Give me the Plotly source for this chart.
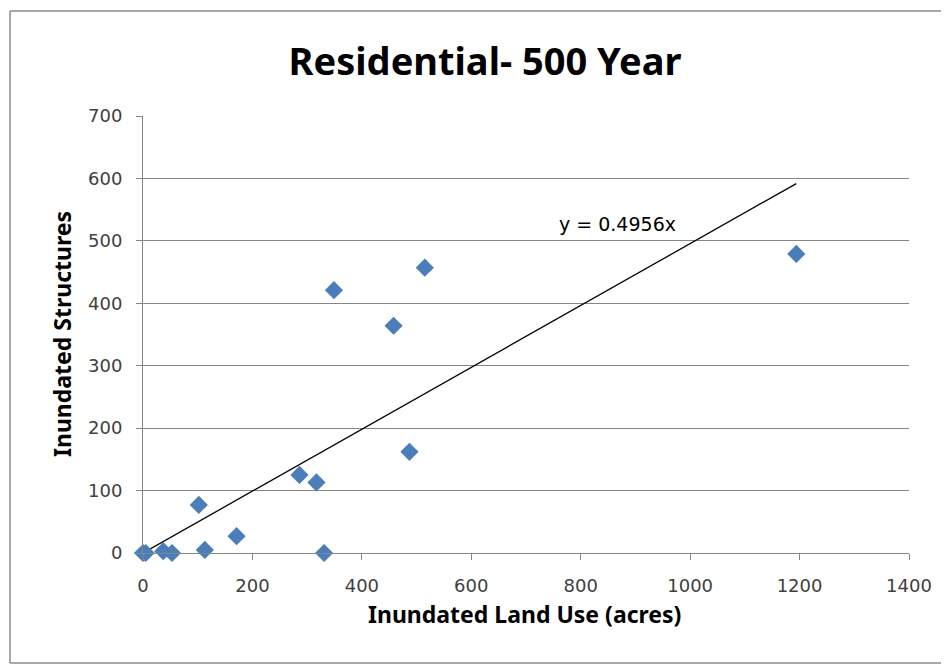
import plotly.graph_objects as go

land_use = [0, 5, 37, 53, 102, 113, 171, 286, 317, 331, 349, 458, 487, 515, 1194]
structures = [0, 0, 3, 0, 77, 5, 27, 125, 113, 0, 421, 364, 162, 457, 479]
slope = 0.4956
trend_x = [0, max(land_use)]
trend_y = [slope * v for v in trend_x]
x_ticks = [0, 200, 400, 600, 800, 1000, 1200, 1400]
y_ticks = [0, 100, 200, 300, 400, 500, 600, 700]

TXT = "Noto Sans, sans-serif"
TICK = "DejaVu Sans, sans-serif"

# plot area on the page: x 143..909, y 116..553 (figure sits at an 8px body offset)
def px(page_x):
    return (page_x - 143) / 766

def py(page_y):
    return (553 - page_y) / 437

W, H = 941, 660

fig = go.Figure()
fig.add_trace(go.Scatter(x=trend_x, y=trend_y, mode="lines",
                         line=dict(color="#000000", width=1.3), showlegend=False, hoverinfo="skip"))
fig.add_trace(go.Scatter(x=land_use, y=structures, mode="markers",
                         marker=dict(symbol="diamond", size=14, color="#4A7EBB",
                                     line=dict(width=0)),
                         showlegend=False, cliponaxis=False))

frame = dict(color="#8c8c8c", width=1.5)
fig.update_layout(
    width=W, height=H,
    margin=dict(l=135, r=W - 135 - 766, t=108, b=H - 108 - 437),
    paper_bgcolor="white", plot_bgcolor="white",
    title=dict(text="<b>Residential- 500 Year</b>", x=(485 - 8) / W, xanchor="center",
               y=1 - (62 - 8) / H, yanchor="middle",
               font=dict(family=TXT, size=38, color="#000000")),
    xaxis=dict(range=[0, 1400], tickvals=x_ticks, showgrid=False, zeroline=False,
               showline=True, linecolor="#868686", linewidth=1,
               ticks="outside", ticklen=6, tickcolor="#868686",
               ticklabelstandoff=10,
               tickfont=dict(family=TICK, size=18, color="#404040")),
    yaxis=dict(range=[0, 700], tickvals=y_ticks, showgrid=True, gridcolor="#868686",
               gridwidth=1, zeroline=False,
               showline=True, linecolor="#868686", linewidth=1,
               ticks="outside", ticklen=6, tickcolor="#868686",
               ticklabelstandoff=10,
               tickfont=dict(family=TICK, size=18, color="#404040")),
    annotations=[
        dict(x=px(617), y=py(211), xref="paper", yref="paper", text="y = 0.4956x",
             showarrow=False, font=dict(family=TICK, size=19, color="#000000")),
        dict(x=px(524), y=py(614), xref="paper", yref="paper",
             text="<b>Inundated Land Use (acres)</b>", showarrow=False,
             xanchor="center", yanchor="middle",
             font=dict(family=TXT, size=23, color="#000000")),
        dict(x=px(62), y=py(334), xref="paper", yref="paper",
             text="<b>Inundated Structures</b>", showarrow=False, textangle=-90,
             xanchor="center", yanchor="middle",
             font=dict(family=TXT, size=23, color="#000000")),
    ],
    shapes=[
        dict(type="line", xref="paper", yref="paper", x0=px(10), x1=px(10),
             y0=py(663), y1=py(11), line=frame, layer="below"),
        dict(type="line", xref="paper", yref="paper", x0=px(10), x1=px(1000),
             y0=py(11), y1=py(11), line=frame, layer="below"),
        dict(type="line", xref="paper", yref="paper", x0=px(10), x1=px(1000),
             y0=py(663), y1=py(663), line=frame, layer="below"),
    ],
)
fig.write_html("out.html")
